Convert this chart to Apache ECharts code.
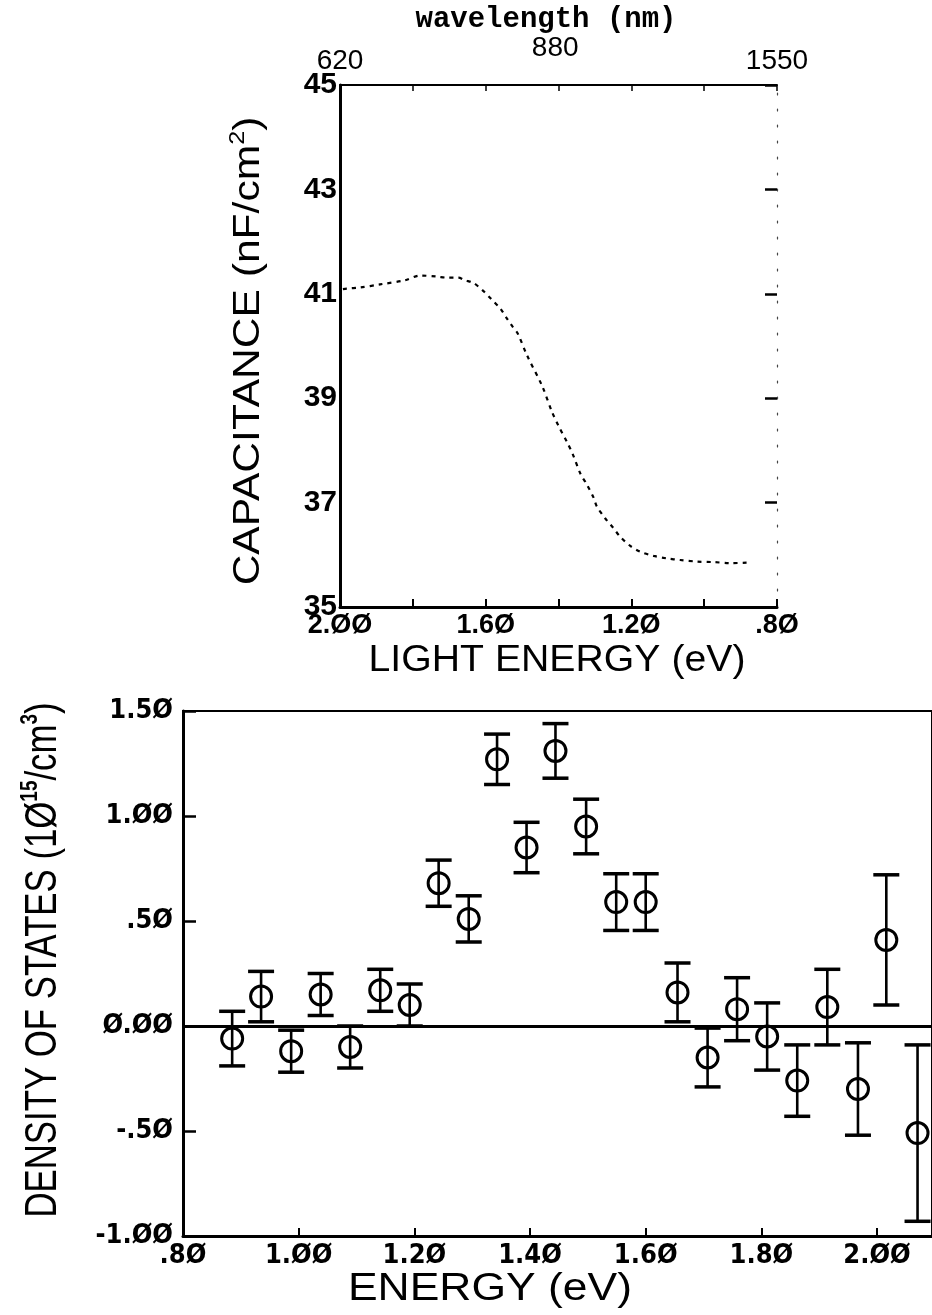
<!DOCTYPE html>
<html>
<head>
<meta charset="utf-8">
<script src="https://cdn.jsdelivr.net/npm/echarts@6/dist/echarts.min.js"></script>
<style>
html,body{margin:0;padding:0;background:#fff;}
#chart{width:932px;height:1315px;}
</style>
</head>
<body>
<div id="chart"></div>
<script>
// ---- Top panel: capacitance vs light energy ----
const capEnergy = [1.992, 1.982, 1.945, 1.890, 1.821, 1.780, 1.734, 1.707, 1.675, 1.657, 1.634, 1.606, 1.586, 1.559, 1.542, 1.526, 1.512, 1.487, 1.444, 1.418, 1.400, 1.376, 1.361, 1.339, 1.324, 1.304, 1.295, 1.272, 1.249, 1.231, 1.203, 1.176, 1.139, 1.102, 1.066, 1.020, 0.974, 0.929, 0.878];
const capValue  = [41.09, 41.10, 41.12, 41.18, 41.26, 41.35, 41.33, 41.31, 41.31, 41.26, 41.21, 41.05, 40.91, 40.71, 40.53, 40.37, 40.24, 39.83, 39.22, 38.74, 38.47, 38.15, 37.93, 37.54, 37.37, 37.10, 36.93, 36.70, 36.51, 36.35, 36.17, 36.06, 35.98, 35.93, 35.90, 35.87, 35.86, 35.84, 35.85];
const wavelengthTicks = [620, 880, 1550];          // nm, top axis labels
const lightEnergyLabels = [2.0, 1.6, 1.2, 0.8];    // eV, bottom axis labels of top panel

// ---- Bottom panel: density of states ----
const dosEnergy = [0.885, 0.935, 0.987, 1.038, 1.089, 1.141, 1.192, 1.242, 1.294, 1.343, 1.394, 1.444, 1.497, 1.549, 1.600, 1.655, 1.707, 1.758, 1.810, 1.862, 1.914, 1.967, 2.016, 2.070];
const dosValue  = [-0.06, 0.14, -0.12, 0.15, -0.10, 0.17, 0.10, 0.68, 0.51, 1.27, 0.85, 1.31, 0.95, 0.59, 0.59, 0.16, -0.15, 0.08, -0.05, -0.26, 0.09, -0.30, 0.41, -0.51];
const dosError  = [0.13, 0.12, 0.10, 0.10, 0.10, 0.10, 0.10, 0.11, 0.11, 0.12, 0.12, 0.13, 0.13, 0.135, 0.135, 0.14, 0.14, 0.15, 0.16, 0.17, 0.18, 0.22, 0.31, 0.42];

const slash = s => s.replace(/0/g, '\u00D8');
function fmtNum(v) {
  let s = Math.abs(v) < 1e-9 ? '0.00' : v.toFixed(2);
  if (Math.abs(v) < 1 && Math.abs(v) > 1e-9) s = s.replace('0.', '.');
  return slash(s);
}

const chart = echarts.init(document.getElementById('chart'), null, {renderer: 'canvas'});
const K = '#000';
const capData = capEnergy.map((e, i) => [e, capValue[i]]);
const dosData = dosEnergy.map((e, i) => [e, dosValue[i], dosError[i]]);
const condFont = "'DejaVu Sans Condensed', 'DejaVu Sans'";

const option = {
  backgroundColor: '#fff',
  animation: false,
  grid: [
    {left: 340, top: 85, width: 437, height: 522, show: false},
    {left: 183, top: 711, right: 0, height: 525, show: true, borderColor: K, borderWidth: 2, backgroundColor: 'transparent'}
  ],
  xAxis: [
    { gridIndex: 0, type: 'value', min: 0.8, max: 2.0, interval: 0.2, inverse: true, position: 'bottom',
      axisLine: {show: true, onZero: false, lineStyle: {color: K, width: 3}},
      axisTick: {show: true, inside: true, length: 8, lineStyle: {color: K, width: 2}},
      axisLabel: {customValues: lightEnergyLabels, formatter: v => fmtNum(v), color: K, fontFamily: 'Liberation Sans', fontWeight: 'bold', fontSize: 27, margin: 5},
      splitLine: {show: false} },
    { gridIndex: 0, type: 'value', min: 0.8, max: 2.0, interval: 0.2, inverse: true, position: 'top',
      axisLine: {show: true, onZero: false, lineStyle: {color: K, width: 2}},
      axisTick: {show: true, inside: true, length: 6, lineStyle: {color: K, width: 1.5}},
      axisLabel: {customValues: wavelengthTicks.map(w => 1240 / w),
        formatter: v => {
          const t = String(Math.round(1240 / v));
          return (v > 0.81 && v < 1.99) ? '{t|' + t + '}\n{g|}' : '{t|' + t + '}';
        },
        rich: {t: {color: K, fontFamily: 'Liberation Sans', fontSize: 28, lineHeight: 30}, g: {lineHeight: 13, fontSize: 8}},
        color: K, fontFamily: 'Liberation Sans', fontSize: 28, margin: 9},
      splitLine: {show: false} },
    { gridIndex: 1, type: 'value', min: 0.8, max: 2.095, interval: 0.2, position: 'bottom',
      axisLine: {show: true, onZero: false, lineStyle: {color: K, width: 3}},
      axisTick: {show: true, inside: true, length: 8, lineStyle: {color: K, width: 2}},
      axisLabel: {formatter: v => fmtNum(v), showMaxLabel: false, color: K, fontFamily: condFont, fontWeight: 'bold', fontSize: 27, margin: 6},
      splitLine: {show: false} }
  ],
  yAxis: [
    { gridIndex: 0, type: 'value', min: 35, max: 45, interval: 2, position: 'left',
      axisLine: {show: true, onZero: false, lineStyle: {color: K, width: 3}},
      axisTick: {show: false},
      axisLabel: {color: K, fontFamily: 'Liberation Sans', fontWeight: 'bold', fontSize: 30, margin: 3},
      splitLine: {show: false} },
    { gridIndex: 0, type: 'value', min: 35, max: 45, interval: 2, position: 'right',
      axisLine: {show: true, onZero: false, lineStyle: {color: '#444', width: 1.2, type: [2, 14]}},
      axisTick: {show: true, inside: true, length: 12, lineStyle: {color: K, width: 2.5}},
      axisLabel: {show: false},
      splitLine: {show: false} },
    { gridIndex: 1, type: 'value', min: -1, max: 1.5, interval: 0.5, position: 'left',
      axisLine: {show: true, onZero: false, lineStyle: {color: K, width: 3}},
      axisTick: {show: true, inside: true, length: 13, lineStyle: {color: K, width: 2.5}},
      axisLabel: {formatter: v => fmtNum(v), color: K, fontFamily: condFont, fontWeight: 'bold', fontSize: 27, margin: 10},
      splitLine: {show: false} }
  ],
  series: [
    { type: 'line', xAxisIndex: 0, yAxisIndex: 0, data: capData, showSymbol: false, smooth: 0.3,
      lineStyle: {color: K, width: 2.2, type: [4, 5]} },
    { type: 'custom', xAxisIndex: 2, yAxisIndex: 2, data: dosData,
      renderItem: function (params, api) {
        const x = api.value(0), y = api.value(1), e = api.value(2);
        const c = api.coord([x, y]);
        const t = api.coord([x, y + e]);
        const b = api.coord([x, y - e]);
        const cap = 13, r = 10.5;
        return {type: 'group', children: [
          {type: 'line', shape: {x1: c[0], y1: t[1], x2: c[0], y2: b[1]}, style: {stroke: K, lineWidth: 2.6}},
          {type: 'line', shape: {x1: c[0] - cap, y1: t[1], x2: c[0] + cap, y2: t[1]}, style: {stroke: K, lineWidth: 3.5}},
          {type: 'line', shape: {x1: c[0] - cap, y1: b[1], x2: c[0] + cap, y2: b[1]}, style: {stroke: K, lineWidth: 3.5}},
          {type: 'circle', shape: {cx: c[0], cy: c[1], r: r}, style: {fill: 'rgba(0,0,0,0)', stroke: K, lineWidth: 3}}
        ]};
      },
      markLine: {silent: true, symbol: ['none', 'none'], label: {show: false},
        lineStyle: {color: K, width: 3, type: 'solid'}, data: [{yAxis: 0}]} }
  ],
  graphic: [
    {type: 'text', x: 546, y: 20, style: {text: 'wavelength (nm)', font: 'bold 29px "Liberation Mono"', fill: K, align: 'center', verticalAlign: 'middle'}},
    {type: 'text', x: 557, y: 661, scaleX: 1.06, style: {text: 'LIGHT ENERGY (eV)', font: '37px "Liberation Sans"', fill: K, align: 'center', verticalAlign: 'middle'}},
    {type: 'text', x: 249, y: 351, rotation: Math.PI / 2, scaleX: 1.15,
      style: {text: 'CAPACITANCE (nF/cm{s|2})', font: '37px "Liberation Sans"', fill: K, align: 'center', verticalAlign: 'middle', lineHeight: 44,
        rich: {s: {fontSize: 22, fontFamily: 'Liberation Sans', verticalAlign: 'top', lineHeight: 44}}}},
    {type: 'text', x: 44, y: 960, rotation: Math.PI / 2, scaleX: 0.79,
      style: {text: 'DENSITY OF STATES (1\u00D8{s|15}/cm{s|3})', font: '44px "Liberation Sans"', fill: K, align: 'center', verticalAlign: 'middle', lineHeight: 52,
        rich: {s: {fontSize: 24, fontFamily: 'Liberation Sans', fontWeight: 'bold', verticalAlign: 'top', lineHeight: 52}}}},
    {type: 'text', x: 490, y: 1290, scaleX: 1.17, style: {text: 'ENERGY (eV)', font: '38px "Liberation Sans"', fill: K, align: 'center', verticalAlign: 'middle'}}
  ]
};
chart.setOption(option);
</script>
</body>
</html>
